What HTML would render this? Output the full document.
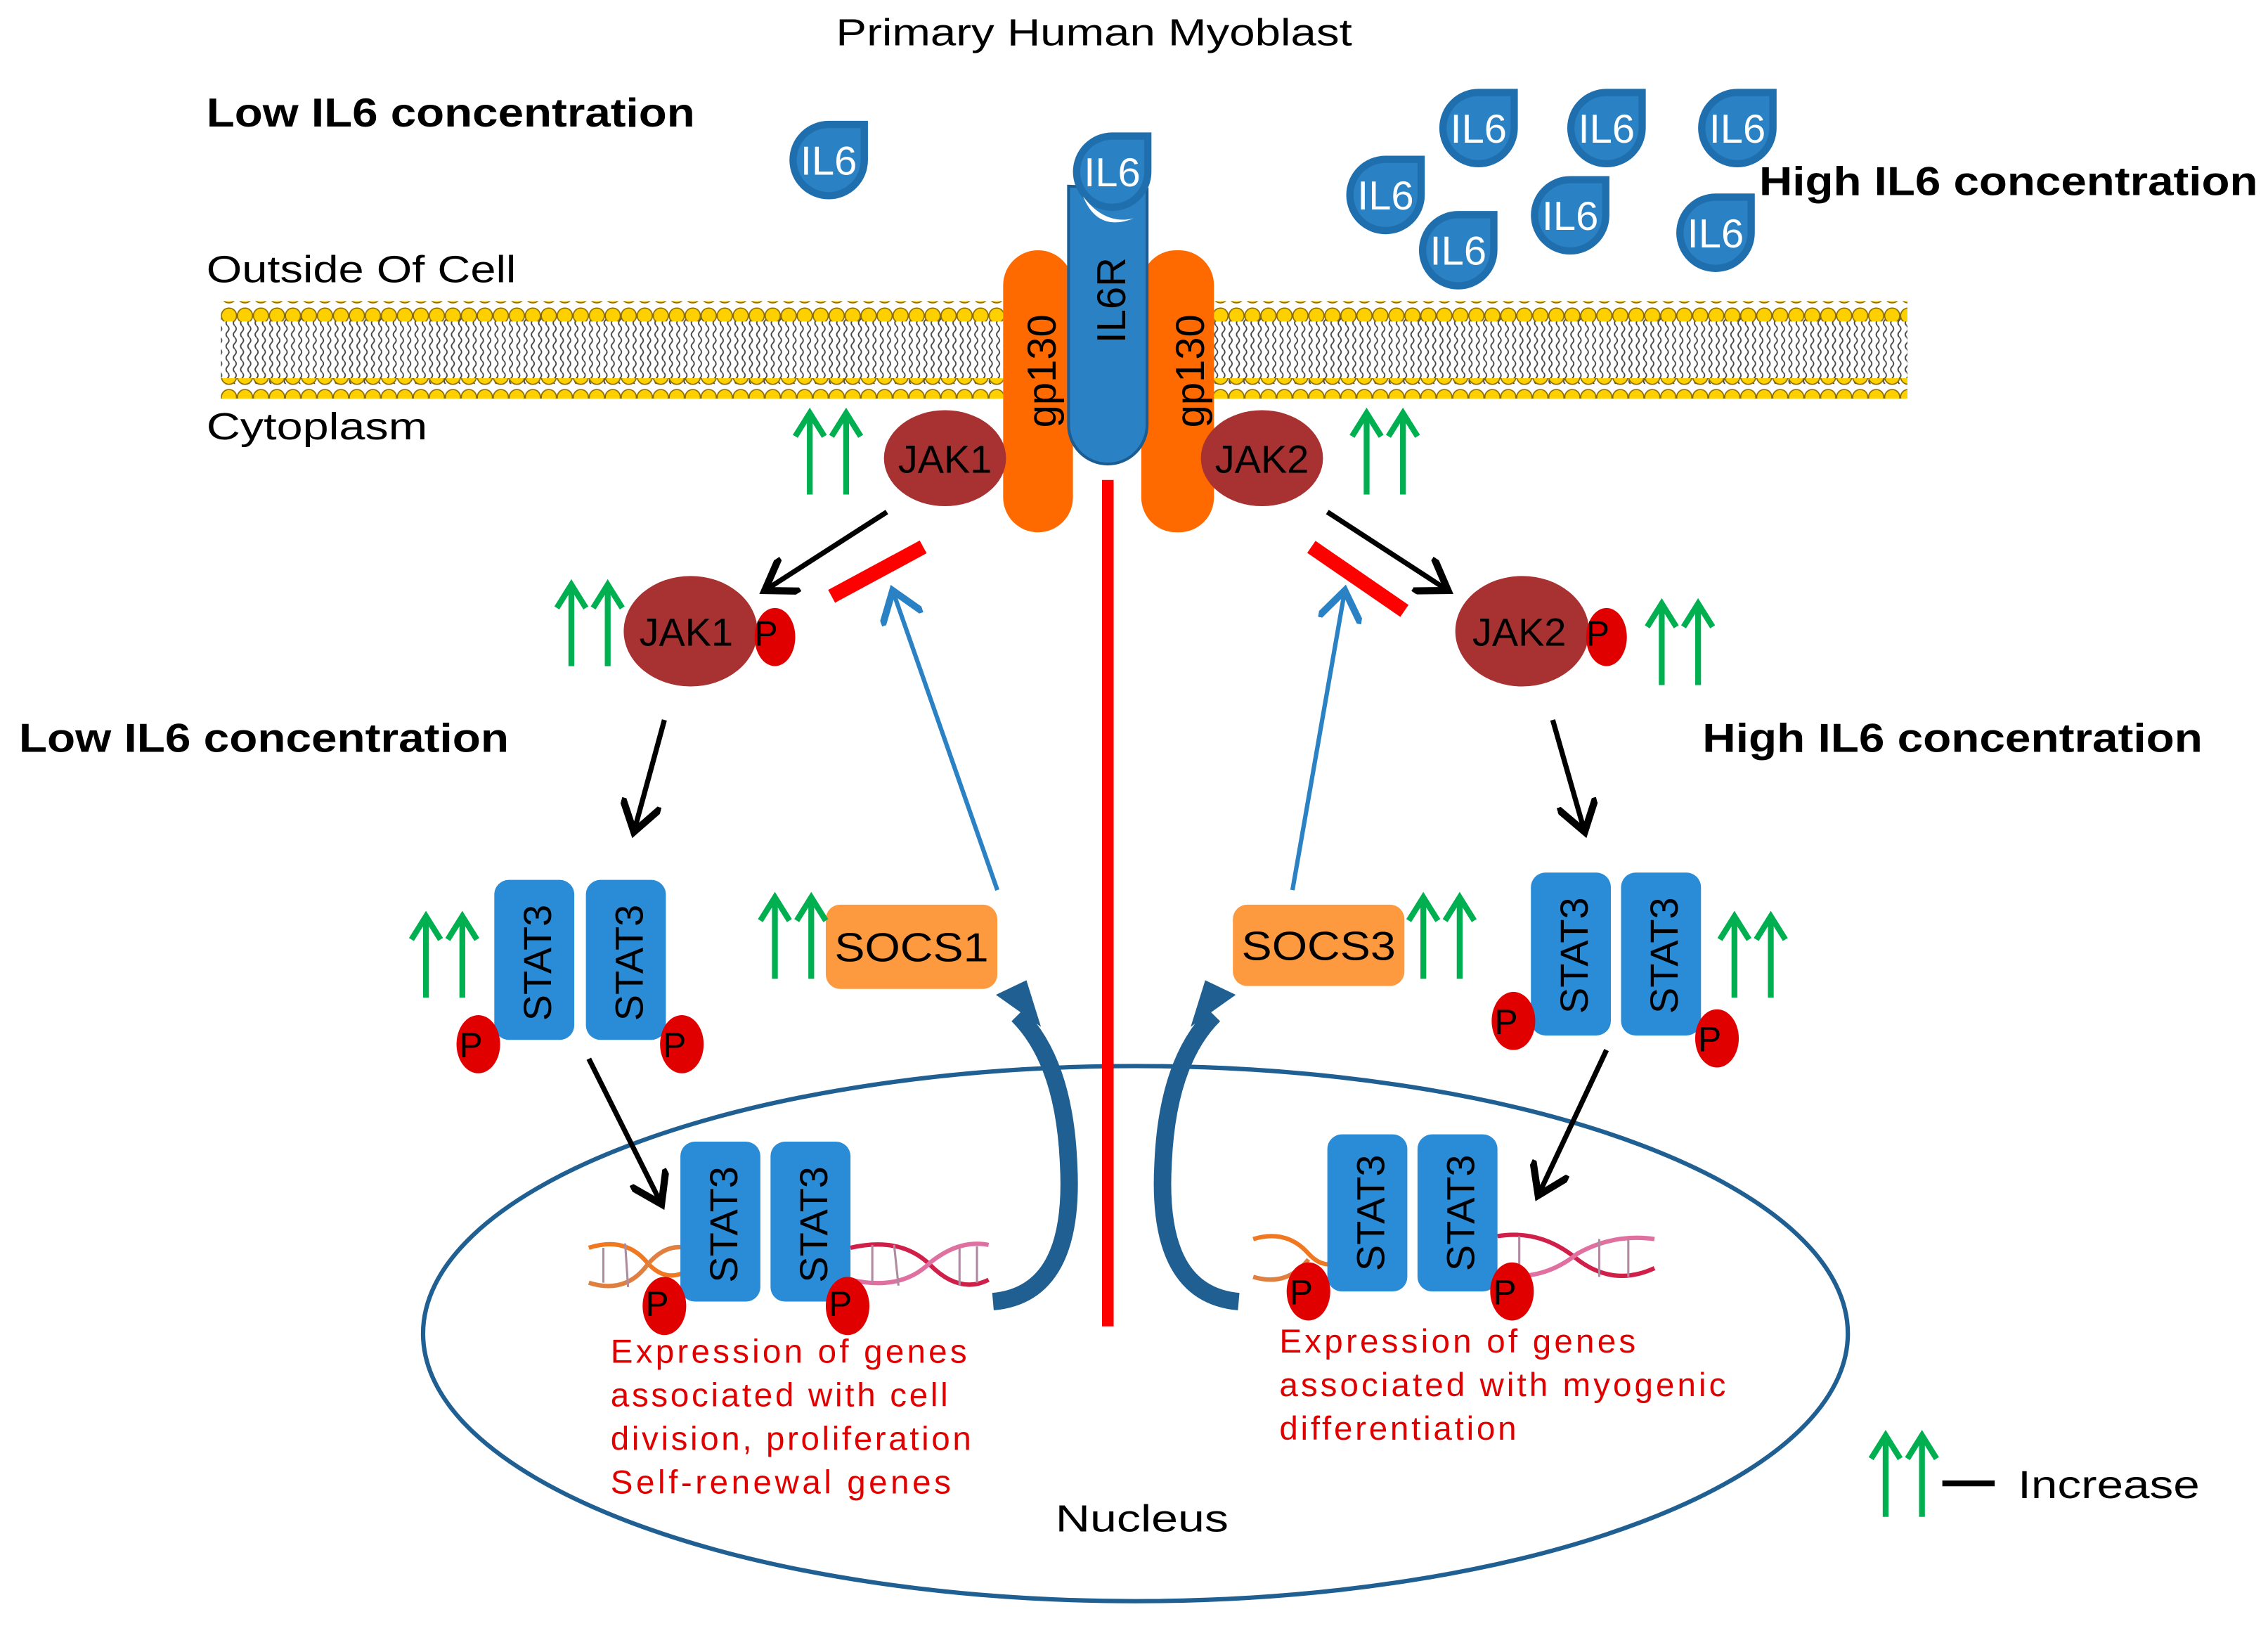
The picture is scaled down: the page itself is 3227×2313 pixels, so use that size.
<!DOCTYPE html>
<html><head><meta charset="utf-8"><style>
html,body{margin:0;padding:0;background:#fff;}
svg{display:block;}
text{font-family:"Liberation Sans",Arial,sans-serif;}
</style></head><body>
<svg width="3227" height="2313" viewBox="0 0 1560 1118" xmlns="http://www.w3.org/2000/svg">
<defs>
<pattern id="tails" x="0" y="0" width="5" height="8" patternUnits="userSpaceOnUse">
<path d="M1.5 0 Q3.5 2 1.5 4 Q-0.5 6 1.5 8" stroke="#444" stroke-width="0.9" fill="none"/>
</pattern>
<pattern id="heads" x="152" y="0" width="11" height="14" patternUnits="userSpaceOnUse">
<circle cx="5.5" cy="7" r="5.2" fill="#ffd000" stroke="#8a6a00" stroke-width="0.8"/>
</pattern>
<g id="il6">
<path d="M0 -27 L27 -27 L27 0 A27 27 0 1 1 0 -27 Z" fill="#1f6fae"/>
<path d="M0 -22 L22 -22 L22 0 A22 22 0 1 1 0 -22 Z" fill="#2a82c4"/>
<text x="0" y="10" font-size="28" fill="#fff" text-anchor="middle">IL6</text>
</g>
<g id="up">
<path d="M0 58 V2 M-10 18 L0 2 L10 18" stroke="#00b050" stroke-width="4" fill="none"/>
<path d="M25 58 V2 M15 18 L25 2 L35 18" stroke="#00b050" stroke-width="4" fill="none"/>
</g>
<marker id="ah" markerWidth="8" markerHeight="8" refX="6" refY="4" orient="auto" markerUnits="strokeWidth">
<path d="M0 0 L6 4 L0 8" fill="none" stroke="#000" stroke-width="1.4"/>
</marker>
<marker id="ahb" markerWidth="10" markerHeight="10" refX="7" refY="5" orient="auto" markerUnits="strokeWidth">
<path d="M0 0 L7 5 L0 10" fill="none" stroke="#2a82c4" stroke-width="1.6"/>
</marker>
</defs>

<!-- membrane -->
<rect x="152" y="218" width="1160" height="46" fill="url(#tails)"/>
<rect x="152" y="207" width="1160" height="14" fill="url(#heads)"/>
<rect x="152" y="260" width="1160" height="14" fill="url(#heads)"/>
<rect x="690" y="200" width="145" height="80" fill="#fff"/>

<!-- titles -->
<text x="575" y="31" font-size="26" textLength="355" lengthAdjust="spacingAndGlyphs">Primary Human Myoblast</text>
<text x="142" y="87" font-size="28" font-weight="bold" textLength="336" lengthAdjust="spacingAndGlyphs">Low IL6 concentration</text>
<text x="1210" y="134" font-size="28" font-weight="bold" textLength="343" lengthAdjust="spacingAndGlyphs">High IL6 concentration</text>
<text x="142" y="194" font-size="26" textLength="213" lengthAdjust="spacingAndGlyphs">Outside Of Cell</text>
<text x="142" y="302" font-size="26" textLength="152" lengthAdjust="spacingAndGlyphs">Cytoplasm</text>
<text x="13" y="517" font-size="28" font-weight="bold" textLength="337" lengthAdjust="spacingAndGlyphs">Low IL6 concentration</text>
<text x="1171" y="517" font-size="28" font-weight="bold" textLength="344" lengthAdjust="spacingAndGlyphs">High IL6 concentration</text>

<!-- IL6 molecules -->
<use href="#il6" x="570" y="110"/>
<use href="#il6" x="1017" y="88"/>
<use href="#il6" x="1105" y="88"/>
<use href="#il6" x="1195" y="88"/>
<use href="#il6" x="953" y="134"/>
<use href="#il6" x="1080" y="148"/>
<use href="#il6" x="1003" y="172"/>
<use href="#il6" x="1180" y="160"/>

<!-- gp130 -->
<rect x="690" y="172" width="48" height="194" rx="24" fill="#ff6a00"/>
<rect x="785" y="172" width="50" height="194" rx="24" fill="#ff6a00"/>
<text transform="translate(726,294) rotate(-90)" font-size="28">gp130</text>
<text transform="translate(828,294) rotate(-90)" font-size="28">gp130</text>
<!-- IL6R -->
<path d="M735 128 V292 A27 27 0 0 0 789 292 V130 Z" fill="#2a82c4" stroke="#1a5d93" stroke-width="2"/>
<use href="#il6" x="765" y="118"/>
<path d="M745 135 Q755 160 780 150 Q760 155 745 135 Z" fill="#fff"/>
<text transform="translate(774,236) rotate(-90)" font-size="28">IL6R</text>

<!-- JAKs -->
<ellipse cx="650" cy="315" rx="42" ry="33" fill="#a83232"/>
<text x="650" y="325" font-size="27" text-anchor="middle">JAK1</text>
<ellipse cx="868" cy="315" rx="42" ry="33" fill="#a83232"/>
<text x="868" y="325" font-size="27" text-anchor="middle">JAK2</text>
<ellipse cx="475" cy="434" rx="46" ry="38" fill="#a83232"/>
<ellipse cx="533" cy="438" rx="14" ry="20" fill="#e00000"/>
<text x="472" y="444" font-size="27" text-anchor="middle">JAK1</text>
<text x="519" y="444" font-size="24">P</text>
<ellipse cx="1047" cy="434" rx="46" ry="38" fill="#a83232"/>
<ellipse cx="1105" cy="438" rx="14" ry="20" fill="#e00000"/>
<text x="1045" y="444" font-size="27" text-anchor="middle">JAK2</text>
<text x="1091" y="444" font-size="24">P</text>

<!-- nucleus -->
<ellipse cx="781" cy="917" rx="490" ry="184" fill="none" stroke="#1f5f92" stroke-width="3"/>

<!-- red line & bars -->
<line x1="762" y1="330" x2="762" y2="912" stroke="#ff0000" stroke-width="8"/>
<line x1="572" y1="410" x2="635" y2="376" stroke="#ff0000" stroke-width="10"/>
<line x1="902" y1="376" x2="966" y2="420" stroke="#ff0000" stroke-width="10"/>

<!-- black arrows -->
<g stroke="#000" stroke-width="3.5" fill="none" marker-end="url(#ah)">
<line x1="610" y1="352" x2="526" y2="406"/>
<line x1="913" y1="352" x2="996" y2="406"/>
<line x1="457" y1="495" x2="436" y2="572"/>
<line x1="1068" y1="495" x2="1090" y2="572"/>
<line x1="405" y1="728" x2="455" y2="828"/>
<line x1="1105" y1="722" x2="1058" y2="822"/>
</g>
<!-- blue arrows -->
<g stroke="#2a82c4" stroke-width="3" fill="none" marker-end="url(#ahb)">
<line x1="686" y1="612" x2="614" y2="406"/>
<line x1="889" y1="612" x2="925" y2="406"/>
</g>

<!-- DNA -->
<g fill="none" stroke-width="3">
<path d="M405 858 Q430 850 445 868 Q460 885 478 870" stroke="#f07820"/>
<path d="M405 882 Q430 890 445 870 Q460 852 478 860" stroke="#e08040"/>
<path d="M585 858 Q620 850 640 870 Q660 890 680 880" stroke="#d0204a"/>
<path d="M585 880 Q620 888 640 868 Q660 852 680 856" stroke="#e070a0"/>
<path d="M862 852 Q885 845 900 862 Q912 875 925 865" stroke="#f07820"/>
<path d="M862 878 Q885 885 900 866" stroke="#e08040"/>
<path d="M1030 850 Q1060 845 1085 866 Q1110 885 1138 872" stroke="#d0204a"/>
<path d="M1030 876 Q1060 882 1085 862 Q1110 848 1138 852" stroke="#e070a0"/>
</g>
<g stroke="#b08aa0" stroke-width="1.5">
<line x1="415" y1="858" x2="415" y2="882"/><line x1="430" y1="855" x2="432" y2="885"/>
<line x1="600" y1="856" x2="600" y2="882"/><line x1="615" y1="856" x2="618" y2="884"/><line x1="660" y1="858" x2="660" y2="884"/><line x1="672" y1="857" x2="672" y2="882"/>
<line x1="1045" y1="850" x2="1045" y2="878"/><line x1="1100" y1="852" x2="1100" y2="878"/><line x1="1120" y1="852" x2="1120" y2="878"/>
</g>

<!-- STAT3 groups -->
<g font-size="27">
<rect x="340" y="605" width="55" height="110" rx="10" fill="#2a8bd6"/>
<rect x="403" y="605" width="55" height="110" rx="10" fill="#2a8bd6"/>
<text transform="translate(379,702) rotate(-90)">STAT3</text>
<text transform="translate(442,702) rotate(-90)">STAT3</text>
<ellipse cx="329" cy="718" rx="15" ry="20" fill="#e00000"/><text x="316" y="727" font-size="24">P</text>
<ellipse cx="469" cy="718" rx="15" ry="20" fill="#e00000"/><text x="456" y="727" font-size="24">P</text>

<rect x="1053" y="600" width="55" height="112" rx="10" fill="#2a8bd6"/>
<rect x="1115" y="600" width="55" height="112" rx="10" fill="#2a8bd6"/>
<text transform="translate(1092,697) rotate(-90)">STAT3</text>
<text transform="translate(1154,697) rotate(-90)">STAT3</text>
<ellipse cx="1041" cy="702" rx="15" ry="20" fill="#e00000"/><text x="1028" y="711" font-size="24">P</text>
<ellipse cx="1181" cy="714" rx="15" ry="20" fill="#e00000"/><text x="1168" y="723" font-size="24">P</text>

<rect x="468" y="785" width="55" height="110" rx="10" fill="#2a8bd6"/>
<rect x="530" y="785" width="55" height="110" rx="10" fill="#2a8bd6"/>
<text transform="translate(507,882) rotate(-90)">STAT3</text>
<text transform="translate(569,882) rotate(-90)">STAT3</text>
<ellipse cx="457" cy="898" rx="15" ry="20" fill="#e00000"/><text x="444" y="905" font-size="24">P</text>
<ellipse cx="583" cy="898" rx="15" ry="20" fill="#e00000"/><text x="570" y="905" font-size="24">P</text>

<rect x="913" y="780" width="55" height="108" rx="10" fill="#2a8bd6"/>
<rect x="975" y="780" width="55" height="108" rx="10" fill="#2a8bd6"/>
<text transform="translate(952,874) rotate(-90)">STAT3</text>
<text transform="translate(1014,874) rotate(-90)">STAT3</text>
<ellipse cx="900" cy="888" rx="15" ry="20" fill="#e00000"/><text x="887" y="897" font-size="24">P</text>
<ellipse cx="1040" cy="888" rx="15" ry="20" fill="#e00000"/><text x="1027" y="897" font-size="24">P</text>
</g>

<!-- SOCS -->
<rect x="568" y="622" width="118" height="58" rx="10" fill="#fd9a40"/>
<text x="574" y="661" font-size="28" textLength="106" lengthAdjust="spacingAndGlyphs">SOCS1</text>
<rect x="848" y="622" width="118" height="56" rx="10" fill="#fd9a40"/>
<text x="854" y="660" font-size="28" textLength="106" lengthAdjust="spacingAndGlyphs">SOCS3</text>

<!-- curved thick arrows -->
<path d="M683 895 Q740 890 735 800 Q732 730 700 698" stroke="#1f5f92" stroke-width="12" fill="none"/>
<path d="M685 684 L706 674 L716 706 Z" fill="#1f5f92"/>
<path d="M852 895 Q795 890 800 800 Q803 730 835 698" stroke="#1f5f92" stroke-width="12" fill="none"/>
<path d="M850 684 L829 674 L819 706 Z" fill="#1f5f92"/>

<!-- green arrows -->
<use href="#up" x="557" y="282"/>
<use href="#up" x="940" y="282"/>
<use href="#up" x="393" y="400"/>
<use href="#up" x="1143" y="413"/>
<use href="#up" x="293" y="628"/>
<use href="#up" x="533" y="615"/>
<use href="#up" x="979" y="615"/>
<use href="#up" x="1193" y="628"/>
<use href="#up" x="1297" y="985"/>
<line x1="1336" y1="1020" x2="1372" y2="1020" stroke="#000" stroke-width="4"/>
<text x="1388" y="1030" font-size="27" textLength="125" lengthAdjust="spacingAndGlyphs">Increase</text>

<!-- red texts -->
<g font-size="23" fill="#e00000" lengthAdjust="spacingAndGlyphs">
<text x="420" y="937" textLength="245">Expression of genes</text>
<text x="420" y="967" textLength="232">associated with cell</text>
<text x="420" y="997" textLength="248">division, proliferation</text>
<text x="420" y="1027" textLength="234">Self-renewal genes</text>
<text x="880" y="930" textLength="245">Expression of genes</text>
<text x="880" y="960" textLength="307">associated with myogenic</text>
<text x="880" y="990" textLength="163">differentiation</text>
</g>
<text x="726" y="1053" font-size="26" textLength="119" lengthAdjust="spacingAndGlyphs">Nucleus</text>
</svg>
</body></html>
